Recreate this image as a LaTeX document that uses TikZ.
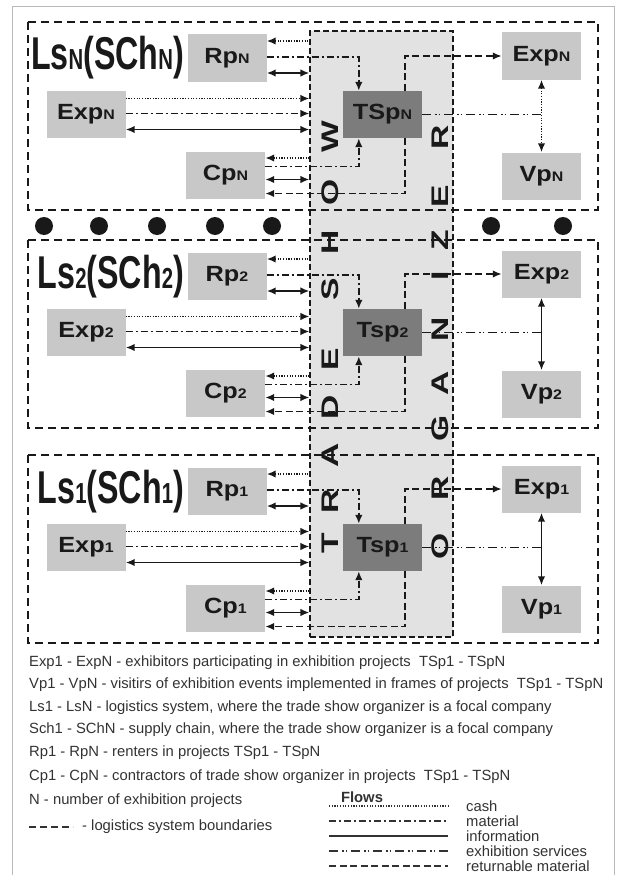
\documentclass[tikz,border=0pt]{standalone}
\usepackage{fontspec}
\usepackage{graphicx}
\setmainfont{Liberation Sans}
\newfontfamily\narrowfont[FakeStretch=0.7]{Liberation Sans}
\newfontfamily\widefont[FakeStretch=1.15]{Liberation Sans}
\newfontfamily\letterfont[FakeStretch=1.4]{Liberation Sans}
\usetikzlibrary{arrows.meta,calc,positioning}
\definecolor{boxgray}{RGB}{200,200,200}
\definecolor{tspgray}{RGB}{124,124,124}
\definecolor{colgray}{RGB}{226,226,226}
\definecolor{inkdark}{RGB}{25,25,25}
\definecolor{legendtext}{RGB}{50,50,50}
\newcommand\idx[1]{\scalebox{0.63}{#1}}

\begin{document}
\begin{tikzpicture}[
  x=1pt, y=-1pt,
  >={Latex[length=9pt,width=7.5pt]},
  box/.style={fill=boxgray, minimum width=79pt, minimum height=47pt, inner sep=0pt,
    text=inkdark, font=\widefont\bfseries\fontsize{22}{22}\selectfont},
  tspbox/.style={box, fill=tspgray},
  lslabel/.style={inner sep=0pt, text=inkdark, font=\narrowfont\bfseries\fontsize{46}{46}\selectfont},
  orgcol/.style={fill=colgray, draw=inkdark, line width=1.1pt, dash pattern=on 6pt off 3pt, inner sep=0pt},
  bigletter/.style={rotate=90, inner sep=0pt, text=inkdark, font=\letterfont\bfseries\fontsize{24}{24}\selectfont},
  flow/.style={line width=1.9pt, inkdark},
  cash/.style={flow, dash pattern=on 1.2pt off 1.5pt},
  material/.style={flow, dash pattern=on 7pt off 3pt on 2pt off 3pt},
  info/.style={flow},
  service/.style={flow, dash pattern=on 9pt off 4pt on 1.5pt off 2pt on 1.5pt off 4pt},
  returnable/.style={flow, dash pattern=on 7pt off 3.5pt},
  boundary/.style={line width=1.5pt, inkdark, dash pattern=on 8pt off 5pt},
  legend/.style={anchor=west, inner sep=0pt, text=legendtext, font=\fontsize{14.8}{14.8}\selectfont},
]
\useasboundingbox (0,0) rectangle (616,875);

%% outer frame
\draw[gray!55, line width=0.8pt] (12,875) -- (12,6) -- (614,6) -- (614,875);

%% trade show organizer column
\node[orgcol, minimum width=143pt, minimum height=606pt] (org) at (381.5,334) {};

% vertical lettering
\foreach \ch/\yy [count=\i] in {T/543, R/501, A/455, D/407, E/359, S/289, H/242, O/192, W/137}
  \node[bigletter] (tsw\i) at (330,\yy) {\ch};
\foreach \ch/\yy [count=\i] in {O/546, R/488, G/428, A/383, N/329, I/276, Z/240, E/196, R/137}
  \node[bigletter] (orz\i) at (440,\yy) {\ch};

%% dots between systems
\foreach \xx in {44,99,157,215,272,491,563}
  \fill[inkdark] (\xx,226) circle (9pt);

%% ---- logistics systems Ls_N, Ls_2, Ls_1 ----
\foreach \g/\t/\ts/\vs in {N/22/TSp/cash, 2/240/Tsp/info, 1/455/Tsp/info} {
  \draw[boundary] (28,\t) rectangle (598,\t+188);

  \node[lslabel, anchor=base east] (ls\g) at (184,\t+48) {Ls\idx{\g}(SCh\idx{\g})};
  \node[box] (rp\g) at (227,\t+36) {Rp\idx{\g}};
  \node[box] (exl\g) at (86,\t+92.5) {Exp\idx{\g}};
  \node[box] (cp\g) at (225.5,\t+153.5) {Cp\idx{\g}};
  \node[tspbox] (ts\g) at (382.5,\t+92.5) {\ts\idx{\g}};
  \node[box] (exr\g) at (541.5,\t+34) {Exp\idx{\g}};
  \node[box] (vp\g) at (541.5,\t+154) {Vp\idx{\g}};

  % renters
  \draw[cash,<-] ($(rp\g.east)+(0,-17)$) coordinate (a) -- (a -| org.west);
  \draw[material,->] ($(rp\g.east)+(0,-1)$) -| ($(ts\g.north west)+(16,0)$);
  \draw[info,<->] ($(rp\g.east)+(0,15)$) coordinate (a) -- (a -| org.west);
  % exhibitors
  \draw[cash,->] ($(exl\g.east)+(0,-16)$) coordinate (a) -- (a -| org.west);
  \draw[material,->] ($(exl\g.east)+(0,-1)$) coordinate (a) -- (a -| org.west);
  \draw[info,<->] ($(exl\g.east)+(0,15)$) coordinate (a) -- (a -| org.west);
  % contractors
  \draw[cash,<-] ($(cp\g.east)+(0,-17.5)$) coordinate (a) -- (a -| org.west);
  \draw[material,->] ($(cp\g.east)+(0,-9)$) -| ($(ts\g.south west)+(16,0)$);
  \draw[info,<->] ($(cp\g.east)+(0,4)$) coordinate (a) -- (a -| org.west);
  \draw[returnable,->] ($(ts\g.south east)+(-17,0)$) |- ($(cp\g.east)+(0,18)$);
  % organizer to exhibitors and visitors
  \draw[returnable,->] ($(ts\g.north east)+(-17,0)$) |- (exr\g.west);
  \draw[service] (ts\g.east) -- (ts\g.east -| exr\g.south);
  \draw[\vs,<->] (exr\g.south) -- (vp\g.north);
}

%% ---- legend ----
\node[legend] (leg1) at (29,663) {Exp1 - ExpN - exhibitors participating in exhibition projects~ TSp1 - TSpN};
\node[legend] (leg2) at (29,685) {Vp1 - VpN - visitirs of exhibition events implemented in frames of projects~ TSp1 - TSpN};
\node[legend] (leg3) at (29,708) {Ls1 - LsN - logistics system, where the trade show organizer is a focal company};
\node[legend] (leg4) at (29,730) {Sch1 - SChN - supply chain, where the trade show organizer is a focal company};
\node[legend] (leg5) at (29,753) {Rp1 - RpN - renters in projects TSp1 - TSpN};
\node[legend] (leg6) at (29,777) {Cp1 - CpN - contractors of trade show organizer in projects~ TSp1 - TSpN};
\node[legend] (leg7) at (29,801) {N - number of exhibition projects};
\draw[legendtext, line width=1.4pt, dash pattern=on 7pt off 4pt] (29,827) -- (73,827);
\node[legend] (leg8) at (82,827) {- logistics system boundaries};

% flows
\node[legend, anchor=base, font=\bfseries\fontsize{14.8}{14.8}\selectfont] (flows) at (362,802) {Flows};
\foreach \st/\yy/\txt in {cash/806/cash, material/821/material, info/836/information,
    service/851/exhibition services, returnable/866/returnable material} {
  \draw[\st, line width=1.5pt, legendtext] (329,\yy) -- (448,\yy);
  \node[legend] (fl\st) at (466,\yy) {\txt};
}
\end{tikzpicture}
\end{document}
